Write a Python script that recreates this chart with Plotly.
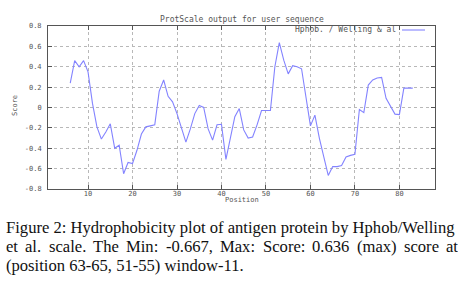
import plotly.graph_objects as go

positions = list(range(6, 84))
scores = [0.24, 0.46, 0.40, 0.46, 0.35, 0.04, -0.19, -0.31, -0.24, -0.16,
          -0.40, -0.37, -0.65, -0.54, -0.55, -0.42, -0.26, -0.19, -0.18, -0.17,
          0.16, 0.27, 0.11, 0.055, -0.06, -0.19, -0.34, -0.21, -0.06, 0.02,
          0.0, -0.21, -0.32, -0.17, -0.165, -0.51, -0.29, -0.09, -0.01, -0.22,
          -0.30, -0.29, -0.17, -0.03, -0.03, -0.03, 0.40, 0.636, 0.465, 0.33,
          0.41, 0.40, 0.38, 0.105, -0.18, -0.075, -0.30, -0.485, -0.667, -0.58,
          -0.58, -0.57, -0.485, -0.47, -0.46, -0.02, -0.05, 0.22, 0.27, 0.29,
          0.295, 0.09, 0.005, -0.065, -0.07, 0.19, 0.19, 0.19]

x_ticks = [10, 20, 30, 40, 50, 60, 70, 80]
y_ticks = [-0.8, -0.6, -0.4, -0.2, 0, 0.2, 0.4, 0.6, 0.8]
y_tick_labels = ["-0.8", "-0.6", "-0.4", "-0.2", "0", "0.2", "0.4", "0.6", "0.8"]

title_text = "ProtScale output for user sequence"
legend_text = "Hphob. / Welling & al"
x_label = "Position"
y_label = "Score"
caption_line1 = "Figure 2: Hydrophobicity plot of antigen protein by Hphob/Welling"
caption_line2_words = ["et", "al.", "scale.", "The", "Min:", "-0.667,", "Max:", "Score:",
                       "0.636", "(max)", "score", "at"]
caption_line3 = "(position 63-65, 51-55) window-11."

W, H = 458, 285
L, R, T, B = 48, 435, 26, 189

def px(x):
    return (x - L) / (R - L)

def py(y):
    return (B - y) / (B - T)

line_color = "#8383ff"
mono = "DejaVu Sans Mono"
serif = "Liberation Serif"
txt_col = "#555"
cap_size = 16.6

# approximate Times-metric glyph widths (em) used only to justify caption line 2
_glyph_em = {"e": .444, "t": .278, "a": .444, "l": .278, ".": .25, "s": .389, "c": .444,
             "T": .611, "h": .5, "M": .889, "i": .278, "n": .5, ":": .278, "-": .333,
             "0": .5, "6": .5, "7": .5, "3": .5, ",": .25, "x": .5, "S": .556, "o": .5,
             "r": .333, "(": .333, ")": .333, "m": .778}

def word_width(w):
    return sum(_glyph_em.get(ch, .5) for ch in w) * cap_size

fig = go.Figure()
fig.add_trace(go.Scatter(x=positions, y=scores, mode="lines",
                         line=dict(color=line_color, width=1.1),
                         showlegend=False, hoverinfo="skip"))

axis_common = dict(showline=True, linecolor="#555", linewidth=1, mirror="ticks",
                   ticks="inside", ticklen=4, tickcolor="#555",
                   showgrid=True, gridcolor="#b8b8b8", griddash="dot", gridwidth=1,
                   zeroline=False, tickfont=dict(family=mono, size=7, color=txt_col))

fig.update_xaxes(range=[1, 88], tickvals=x_ticks, ticklabelstandoff=-2, **axis_common)
fig.update_yaxes(range=[-0.8, 0.8], tickvals=y_ticks, ticktext=y_tick_labels,
                 ticklabelstandoff=4, **axis_common)

anns = []
anns.append(dict(x=px(242), y=py(19), text=title_text, showarrow=False,
                 xref="paper", yref="paper", xanchor="center", yanchor="middle",
                 font=dict(family=mono, size=8, color=txt_col)))
anns.append(dict(x=px(398), y=py(30), text=legend_text, showarrow=False,
                 xref="paper", yref="paper", xanchor="right", yanchor="middle",
                 font=dict(family=mono, size=8, color=txt_col)))
anns.append(dict(x=px(242), y=py(200), text=x_label, showarrow=False,
                 xref="paper", yref="paper", xanchor="center", yanchor="middle",
                 font=dict(family=mono, size=7, color=txt_col)))
anns.append(dict(x=px(15), y=py(106), text=y_label, showarrow=False, textangle=-90,
                 xref="paper", yref="paper", xanchor="center", yanchor="middle",
                 font=dict(family=mono, size=7, color=txt_col)))

cap_font = dict(family=serif, size=cap_size, color="#111")
anns.append(dict(x=px(4), y=py(227), text=caption_line1, showarrow=False,
                 xref="paper", yref="paper", xanchor="left", yanchor="middle",
                 font=cap_font))

# justified line 2 between x=4 and x=456
left, right = 4, 456
widths = [word_width(w) for w in caption_line2_words]
gap = (right - left - sum(widths)) / (len(widths) - 1)
xcur = left
for w, word in zip(widths, caption_line2_words):
    anns.append(dict(x=px(xcur), y=py(246), text=word, showarrow=False,
                     xref="paper", yref="paper", xanchor="left", yanchor="middle",
                     font=cap_font))
    xcur += w + gap

anns.append(dict(x=px(4), y=py(265), text=caption_line3, showarrow=False,
                 xref="paper", yref="paper", xanchor="left", yanchor="middle",
                 font=cap_font))

shapes = [dict(type="line", xref="paper", yref="paper", x0=px(402), x1=px(425),
               y0=py(30), y1=py(30), line=dict(color=line_color, width=1.1))]

fig.update_layout(width=W, height=H, margin=dict(l=L, r=W - R, t=T, b=H - B),
                  plot_bgcolor="white", paper_bgcolor="white",
                  annotations=anns, shapes=shapes)

fig.write_html("out.html", config={"displayModeBar": False},
               post_script="document.body.style.margin='0';document.body.style.padding='0';")
